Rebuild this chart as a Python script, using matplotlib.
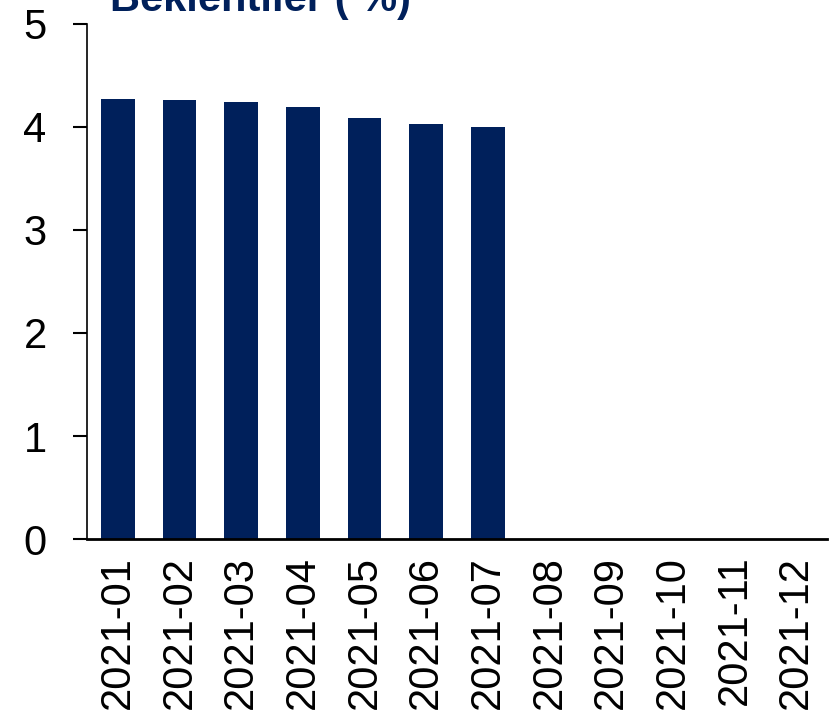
import matplotlib
matplotlib.use("Agg")
import matplotlib.pyplot as plt
import numpy as np

# monthly expectations (%), only Jan-Jul filled in
months = ['2021-01', '2021-02', '2021-03', '2021-04', '2021-05', '2021-06',
          '2021-07', '2021-08', '2021-09', '2021-10', '2021-11', '2021-12']
values = [4.27, 4.26, 4.24, 4.19, 4.09, 4.03, 4.00,
          np.nan, np.nan, np.nan, np.nan, np.nan]
yticks = [0, 1, 2, 3, 4, 5]

plt.rcParams['font.family'] = ['Liberation Sans', 'DejaVu Sans']

fig = plt.figure(figsize=(8.3, 7.16), dpi=100)
ax = fig.add_axes([0.1048, 0.2472, 0.8916, 0.7193])

x = np.arange(len(months))
ax.bar(x, values, width=0.55, color='#00205B')

ax.set_xlim(-0.5, len(months) - 0.5)
ax.set_ylim(0, 5)
ax.set_yticks(yticks)
ax.set_xticks(x)
ax.set_xticklabels(months, rotation=90)

ax.tick_params(axis='x', length=0, pad=12, labelsize=30)
ax.tick_params(axis='y', length=10, width=1.5, pad=19, labelsize=30)

for s in ['top', 'right']:
    ax.spines[s].set_visible(False)
ax.spines['left'].set_linewidth(1.2)
ax.spines['bottom'].set_linewidth(2)

fig.text(110 / 830, 1 - 11 / 716, 'Beklentiler ( %)', fontsize=30,
         fontweight='bold', color='#00205B', va='baseline', ha='left')

fig.savefig('out.png', dpi=100)
